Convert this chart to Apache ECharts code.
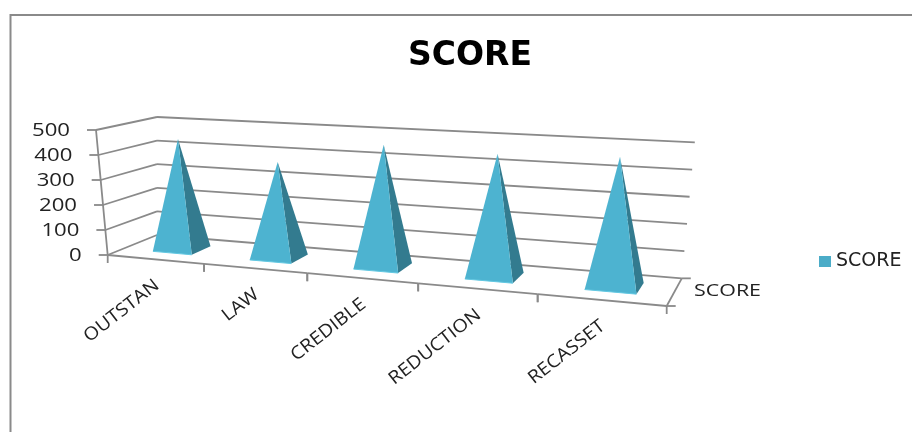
<!DOCTYPE html>
<html><head><meta charset="utf-8">
<style>html,body{margin:0;padding:0;background:#fff}#c{width:912px;height:432px}</style>
<script src="https://cdn.jsdelivr.net/npm/echarts@6/dist/echarts.min.js"></script>
</head><body><div id="c"></div>
<script>
const categories = ['OUTSTAN','LAW','CREDIBLE','REDUCTION','RECASSET'];
const scores = [445, 375, 465, 455, 470];
const valueTicks = [0,100,200,300,400,500];
const seriesName = 'SCORE';

const A=[107.7,255],U=[666.7,306],D=[157,235],alpha=.833,beta=1.07;
const hFL=[-11.7,-125],hFR=[1.3,-143],hBL=[0,-118],hBR=[13,-136];
function floorPt(u,d){
  const w=1+u*(alpha-1)+d*(beta-1);
  return [0,1].map(k=>(A[k]+u*(alpha*U[k]-A[k])+d*(beta*D[k]-A[k]))/w);
}
function P(u,d,v){
  const f=floorPt(u,d);
  return [0,1].map(k=>f[k]+v*((1-u)*(1-d)*hFL[k]+u*(1-d)*hFR[k]+(1-u)*d*hBL[k]+u*d*hBR[k]));
}
const LINE='#8a8a8a',TXT='#222',FONT='"Open Sans"';
function seg(a,b,w){return {type:'line',shape:{x1:a[0],y1:a[1],x2:b[0],y2:b[1]},style:{stroke:LINE,lineWidth:w||1.8}};}
function norm(params,api,x,val){
  const g=params.coordSys,p=api.coord([x,val]);
  return {u:(p[0]-g.x)/g.width,v:(g.y+g.height-p[1])/g.height,band:api.size([1,0])[0]/g.width};
}
function label(text,x,y,align,scale,rot,size){
  return {type:'text',x:x,y:y,scaleX:scale,rotation:rot||0,
    style:{text:text,font:size+'px '+FONT,fill:TXT,align:align,verticalAlign:'middle'}};
}
function renderWall(params,api){
  const val=api.value(1),n=norm(params,api,0,val),v=n.v,c=[];
  c.push(seg(P(0,1,v),P(1,1,v)));
  c.push(seg(P(0,0,v),P(0,1,v)));
  const f=P(0,0,v);
  c.push(seg(f,[f[0]-9,f[1]]));
  c.push(label(String(val),f[0]-26,f[1]+.5,'right',1.23,0,18));
  if(val===0){
    c.push(seg(P(0,0,0),P(0,0,1)));
    c.push(seg(P(1,0,0),P(1,1,0)));
    const r=P(1,0,0),b=P(1,1,0);
    c.push(seg(r,[r[0]+9,r[1]]));
    c.push(seg(b,[b[0]+9,b[1]]));
    c.push(label(seriesName,694,291,'left',1.26,0,17));
  }
  return {type:'group',children:c};
}
function renderCat(params,api){
  const i=api.value(0),n=norm(params,api,i,0),u0=n.u-n.band/2,u1=n.u+n.band/2,c=[];
  const a=P(u0,0,0),b=P(u1,0,0),m=P(n.u,0,0);
  c.push(seg(a,b));
  c.push(seg(a,[a[0],a[1]+8]));
  c.push(seg(b,[b[0],b[1]+8]));
  c.push(label(categories[i],m[0]+2,m[1]+24,'right',1.1,38*Math.PI/180,18));
  return {type:'group',children:c};
}
function renderPyr(params,api){
  const i=api.value(0),n=norm(params,api,i,api.value(1)),w=n.band*.41,d0=.3,d1=.71,uc=n.u+.005;
  const FLp=P(uc-w/2,d0,0),FRp=P(uc+w/2,d0,0),BRp=P(uc+w/2,d1,0),T=P(uc,(d0+d1)/2,n.v);
  return {type:'group',children:[
    {type:'polygon',shape:{points:[FRp,BRp,T]},style:{fill:'#337b8f'}},
    {type:'polygon',shape:{points:[FLp,FRp,T]},style:{fill:'#4db3d0'}},
    {type:'line',shape:{x1:FLp[0],y1:FLp[1],x2:FRp[0],y2:FRp[1]},style:{stroke:'#62c8e2',lineWidth:1}}
  ]};
}
const chart=echarts.init(document.getElementById('c'),null,{renderer:'canvas'});
chart.setOption({
  animation:false,
  backgroundColor:'#fff',
  title:{text:'SCORE',left:465,top:35,textAlign:'center',
    textStyle:{fontFamily:'DejaVu Sans',fontWeight:'bold',fontSize:33,color:'#000'}},
  legend:{data:[seriesName],left:814,top:247,itemWidth:12,itemHeight:11,itemGap:6,icon:'rect',
    textStyle:{fontFamily:'DejaVu Sans',fontSize:19,color:TXT}},
  grid:{left:100,right:250,top:100,bottom:100,show:false},
  xAxis:{type:'category',data:categories,show:false},
  yAxis:{type:'value',min:0,max:500,interval:100,show:false},
  graphic:[{type:'rect',shape:{x:10.5,y:15,width:1000,height:1000},style:{fill:'none',stroke:'#8a8a8a',lineWidth:2},silent:true}],
  series:[
    {type:'custom',name:'walls',silent:true,clip:false,data:valueTicks.map(v=>[0,v]),renderItem:renderWall,z:2},
    {type:'custom',name:'cats',silent:true,clip:false,data:categories.map((c,i)=>[i,0]),renderItem:renderCat,z:2},
    {type:'custom',name:seriesName,silent:true,clip:false,itemStyle:{color:'#4bacc8'},
      data:scores.map((s,i)=>[i,s]),renderItem:renderPyr,z:3}
  ]
});
</script></body></html>
